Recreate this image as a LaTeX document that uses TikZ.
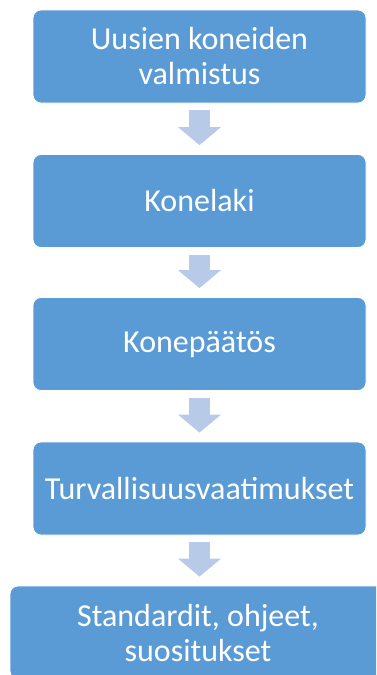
\documentclass[tikz,border=0pt]{standalone}
\usepackage{fontspec}
\setmainfont{Carlito}
\usetikzlibrary{arrows.meta}
\definecolor{boxblue}{RGB}{91,155,213}
\definecolor{arrowblue}{RGB}{183,202,232}

\begin{document}
\begin{tikzpicture}[x=1pt,y=1pt,
  stage/.style={draw=white,line width=0.8pt,fill=boxblue,rounded corners=8pt,
    minimum width=333pt,minimum height=93pt,inner sep=0pt,text=white,align=center,
    font=\fontsize{32}{35}\selectfont},
  flow/.style={draw=arrowblue,line width=21pt,
    -{Triangle[width=43pt,length=18pt,line width=0pt]}}]
  \useasboundingbox (0,0) rectangle (376,-675);
  \clip (0,0) rectangle (376,-675);
  % stages
  \node[stage] (valmistus) at (199.5,-56.5) {Uusien koneiden\\valmistus};
  \node[stage] (konelaki) at (199.5,-201) {Konelaki};
  \node[stage] (konepaatos) at (199.5,-344) {Konepäätös};
  \node[stage] (vaatimukset) at (199.5,-488.5) {Turvallisuusvaatimukset};
  \node[stage,minimum width=376pt] (standardit) at (198,-632.5) {Standardit, ohjeet,\\suositukset};
  % arrows
  \draw[flow] ([yshift=-7pt]valmistus.south) -- ([yshift=9pt]konelaki.north);
  \draw[flow] ([yshift=-7pt]konelaki.south) -- ([yshift=9pt]konepaatos.north);
  \draw[flow] ([yshift=-7pt]konepaatos.south) -- ([yshift=9pt]vaatimukset.north);
  \draw[flow] ([yshift=-7pt]vaatimukset.south) -- ([yshift=9pt]vaatimukset.south |- standardit.north);
\end{tikzpicture}
\end{document}
